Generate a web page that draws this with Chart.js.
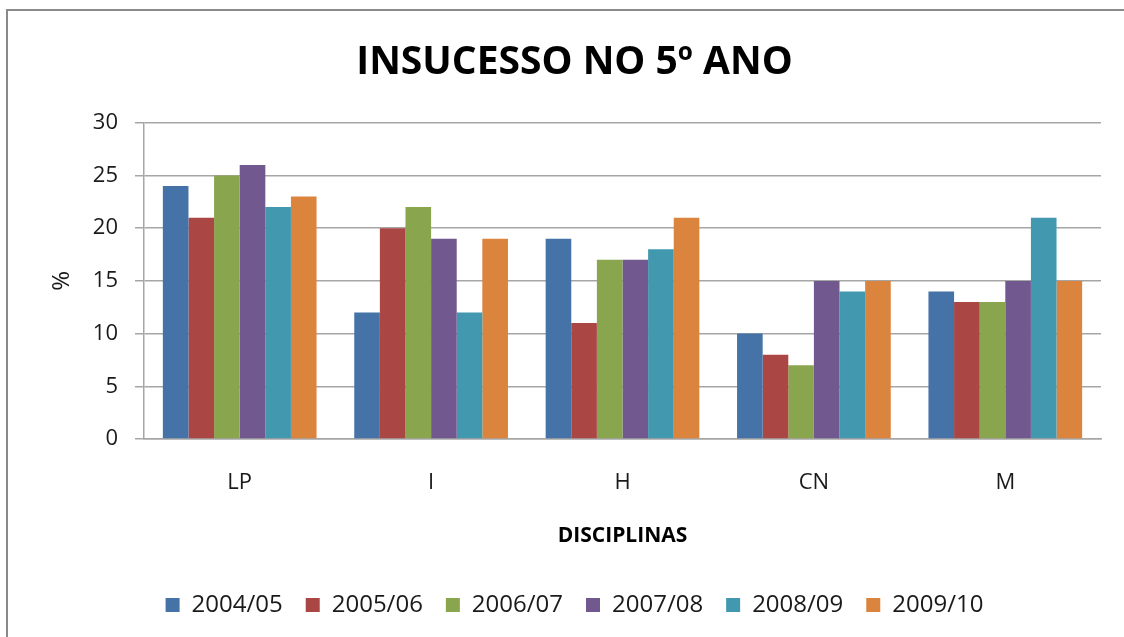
<!DOCTYPE html>
<html>
<head>
<meta charset="utf-8">
<script src="https://cdn.jsdelivr.net/npm/chart.js@4"></script>
<style>
  html, body { margin:0; padding:0; background:#fff; overflow:hidden; }
  #wrap { position:absolute; left:0; top:0; width:1124px; height:637px; }
  #frame { position:absolute; left:6px; top:9px; width:2000px; height:2000px; border:2.5px solid #8a8a8a; pointer-events:none; }
</style>
</head>
<body>
<div id="wrap"><canvas id="c" width="1124" height="637"></canvas></div>
<div id="frame"></div>
<script>
const categories = ['LP', 'I', 'H', 'CN', 'M'];
const seriesNames = ['2004/05', '2005/06', '2006/07', '2007/08', '2008/09', '2009/10'];
const s2004 = [24, 12, 19, 10, 14];
const s2005 = [21, 20, 11, 8, 13];
const s2006 = [25, 22, 17, 7, 13];
const s2007 = [26, 19, 17, 15, 15];
const s2008 = [22, 12, 18, 14, 21];
const s2009 = [23, 19, 21, 15, 15];
const yTicks = [0, 5, 10, 15, 20, 25, 30];
const colors = ['#4572A7', '#AA4643', '#89A54E', '#71588F', '#4198AF', '#DB843D'];

const seriesValues = [s2004, s2005, s2006, s2007, s2008, s2009];
const datasets = seriesNames.map((n, i) => ({
  label: n,
  data: seriesValues[i],
  backgroundColor: colors[i],
  borderWidth: 0,
  categoryPercentage: 0.803,
  barPercentage: 1.0
}));

const FONT = '"Open Sans", "Noto Sans", sans-serif';

new Chart(document.getElementById('c'), {
  type: 'bar',
  data: { labels: categories, datasets },
  options: {
    responsive: false,
    animation: false,
    devicePixelRatio: 1,
    layout: { padding: { left: 48, right: 23, top: 18, bottom: 10 } },
    plugins: {
      tooltip: { enabled: false },
      title: {
        display: true,
        text: 'INSUCESSO NO 5º ANO',
        color: '#000',
        font: { family: FONT, size: 39, weight: 'bold' },
        padding: { top: 21, bottom: 37 }
      },
      legend: {
        position: 'bottom',
        labels: {
          color: '#1a1a1a',
          font: { family: FONT, size: 24 },
          boxWidth: 14,
          boxHeight: 14,
          padding: 23
        }
      }
    },
    scales: {
      x: {
        grid: { display: false, drawTicks: false },
        border: { display: true, color: '#a6a6a6', width: 1.5 },
        ticks: { color: '#1a1a1a', font: { family: FONT, size: 22 }, padding: 31 },
        title: {
          display: true, text: 'DISCIPLINAS', color: '#000',
          font: { family: FONT, size: 21, weight: 'bold' },
          padding: { top: 0, bottom: 21 }
        },
        afterFit: (s) => { s.height = 131; }
      },
      y: {
        min: 0, max: 30,
        afterBuildTicks: (s) => { s.ticks = yTicks.map(v => ({ value: v })); },
        grid: { color: '#a6a6a6', lineWidth: 1.5, drawTicks: true, tickLength: 9, tickColor: '#a6a6a6' },
        border: { display: true, color: '#a6a6a6', width: 1.5 },
        ticks: { color: '#1a1a1a', font: { family: FONT, size: 22 }, padding: 17 },
        title: {
          display: true, text: '%', color: '#1a1a1a',
          font: { family: FONT, size: 24 },
          padding: { top: 0, bottom: 0 }
        },
        afterFit: (s) => { s.width = 96; }
      }
    }
  },
  plugins: [{
    id: 'bg',
    beforeDraw: (chart) => {
      const ctx = chart.ctx;
      ctx.save(); ctx.fillStyle = '#fff'; ctx.fillRect(0, 0, chart.width, chart.height); ctx.restore();
    }
  }]
});
</script>
</body>
</html>
